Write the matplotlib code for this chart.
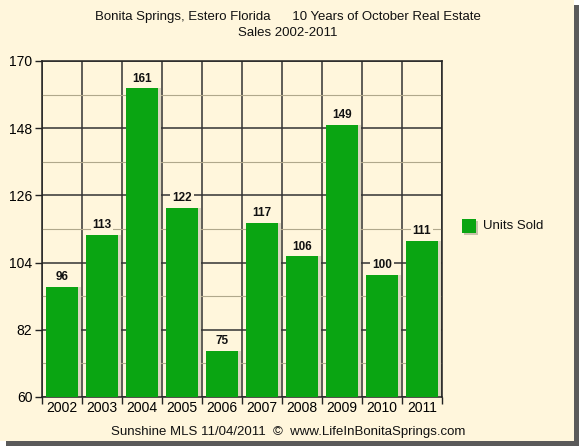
import numpy as np
import matplotlib
matplotlib.use("Agg")
from matplotlib import pyplot as plt
from matplotlib.patches import Rectangle

years = ["2002", "2003", "2004", "2005", "2006", "2007", "2008", "2009", "2010", "2011"]
units = [96, 113, 161, 122, 75, 117, 106, 149, 100, 111]
yticks = [60, 82, 104, 126, 148, 170]

plt.rcParams['font.family'] = ['Liberation Sans', 'DejaVu Sans']

fig = plt.figure(figsize=(5.79, 4.48), dpi=100)
fig.patch.set_facecolor('white')

# card background with drop shadow
fig.patches.append(Rectangle((6 / 579, 2 / 448), 573 / 579, 441 / 448, transform=fig.transFigure,
                             facecolor='#5a5a5a', edgecolor='none', zorder=-3))
fig.patches.append(Rectangle((0, 7 / 448), 574 / 579, 441 / 448, transform=fig.transFigure,
                             facecolor='#fff6dc', edgecolor='none', zorder=-2))

ax = fig.add_axes([42 / 579, 1 - 397 / 448, 400 / 579, 336 / 448])
ax.set_facecolor('#fff6dc')

x = np.arange(len(years))
# soft shadow behind bars
ax.bar(x + 0.04, units, width=0.88, bottom=0, color='#dcd6bf', zorder=2)
ax.bar(x, units, width=0.8, color='#0aa512', zorder=3)

for xi, v in zip(x, units):
    ax.text(xi, v + 1.3, str(v), ha='center', va='bottom', fontsize=8.5,
            fontweight='bold', color='#111111', zorder=4,
            bbox=dict(boxstyle='square,pad=0.15', facecolor='#fff6dc', edgecolor='none'))

ax.set_xlim(-0.5, len(years) - 0.5)
ax.set_ylim(60, 170)
ax.set_yticks(yticks)
ax.set_yticks([71, 93, 115, 137, 159], minor=True)
ax.set_xticks(x)
ax.set_xticklabels(years)
ax.set_xticks(np.arange(len(years) + 1) - 0.5, minor=True)

ax.grid(axis='y', which='major', color='#333333', linewidth=1.1, zorder=1)
ax.grid(axis='y', which='minor', color='#b0a88c', linewidth=0.8, zorder=1)
ax.grid(axis='x', which='minor', color='#333333', linewidth=1.1, zorder=1)
ax.set_axisbelow(True)

ax.tick_params(axis='y', which='major', length=5, width=1, color='#222222', labelsize=10, pad=2)
ax.tick_params(axis='y', which='minor', length=0)
ax.tick_params(axis='x', which='major', length=0, labelsize=10, pad=3)
ax.tick_params(axis='x', which='minor', length=5, width=1, color='#222222')
for s in ax.spines.values():
    s.set_color('#222222')
    s.set_linewidth(1.1)

fig.text(288 / 579, 1 - 17 / 448, "Bonita Springs, Estero Florida      10 Years of October Real Estate",
         ha='center', va='center', fontsize=9.5, color='#111111')
fig.text(288 / 579, 1 - 33 / 448, "Sales 2002-2011", ha='center', va='center', fontsize=9.5, color='#111111')
fig.text(288 / 579, 1 - 432 / 448, "Sunshine MLS 11/04/2011  \u00a9  www.LifeInBonitaSprings.com",
         ha='center', va='center', fontsize=9.5, color='#111111')

# legend
fig.patches.append(Rectangle((464 / 579, 1 - 235 / 448), 14 / 579, 14 / 448, transform=fig.transFigure,
                             facecolor='#c8c2aa', edgecolor='none'))
fig.patches.append(Rectangle((462 / 579, 1 - 233 / 448), 14 / 579, 14 / 448, transform=fig.transFigure,
                             facecolor='#0aa512', edgecolor='none'))
fig.text(483 / 579, 1 - 226 / 448, "Units Sold", ha='left', va='center', fontsize=9.5, color='#111111')

fig.savefig("out.png", dpi=100)
